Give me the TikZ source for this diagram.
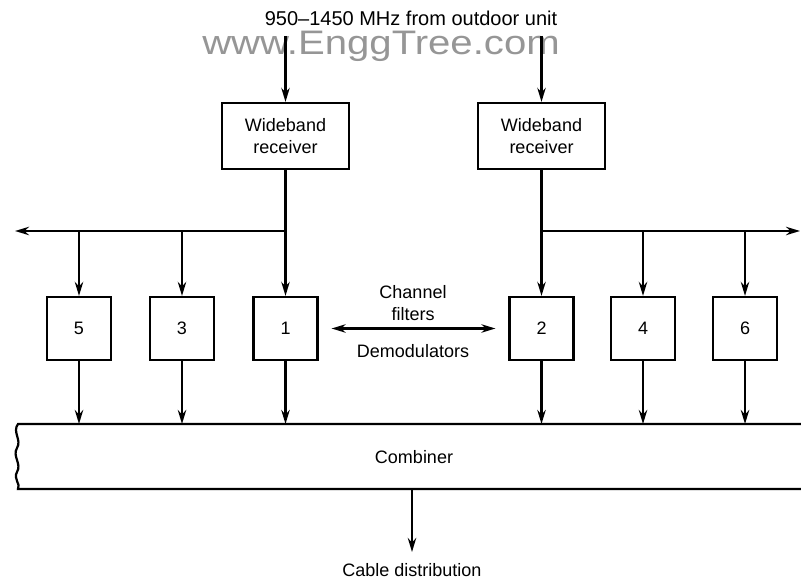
\documentclass[tikz,border=0pt]{standalone}
\usepackage{fontspec}
\setmainfont{Liberation Sans}
\usetikzlibrary{arrows.meta}
\definecolor{wmgray}{RGB}{150,150,150}

\begin{document}
\begin{tikzpicture}[x=0.5pt,y=-0.5pt,font=\fontsize{9}{11}\selectfont,line width=1.1pt,
    every node/.style={align=center},
    >={Stealth[length=7pt,width=4.2pt]},
    rxbox/.style={draw,minimum width=63.5pt,minimum height=33pt,inner sep=0pt},
    fltbox/.style={draw,minimum width=32pt,minimum height=31.5pt,inner sep=0pt}]
  \useasboundingbox (0,0) rectangle (801,581);
  % input and watermark
  \node (src) at (411,18) {\fontsize{10}{12}\selectfont 950--1450 MHz from outdoor unit};
  \node[text=wmgray,font=\fontsize{17}{19}\selectfont,anchor=base,xscale=1.18] (wm) at (381,55) {www.EnggTree.com};
  \coordinate (inL) at (285.5,36);
  \coordinate (inR) at (541.5,36);
  % receivers
  \node[rxbox] (rx1) at (285.5,136) {Wideband\\receiver};
  \node[rxbox] (rx2) at (541.5,136) {Wideband\\receiver};
  % channel filters / demodulators
  \node[fltbox] (f5) at (79,328.5) {5};
  \node[fltbox] (f3) at (182,328.5) {3};
  \node[fltbox] (f1) at (285.5,328.5) {1};
  \node[fltbox] (f2) at (541.5,328.5) {2};
  \node[fltbox] (f4) at (643,328.5) {4};
  \node[fltbox] (f6) at (745,328.5) {6};
  \node (chf) at (413,303) {Channel\\filters};
  \node (dem) at (413,351) {Demodulators};
  % combiner
  \coordinate (bus) at (0,231);
  \coordinate (busL) at (15,231);
  \coordinate (busR) at (800,231);
  \coordinate (cmbT) at (0,424);
  \coordinate (cmbB) at (0,489);
  \node (cmb) at (414,457) {Combiner};
  \node (cable) at (412,570) {Cable distribution};
  \coordinate (out) at (412,552);

  \draw[->] (inL) -- (rx1);
  \draw[->] (inR) -- (rx2);
  \draw[->] (rx1) -- (f1);
  \draw[->] (rx2) -- (f2);
  \draw[->] (rx1 |- bus) -- (busL);
  \draw[->] (rx2 |- bus) -- (busR);
  \foreach \f in {f5,f3,f4,f6}
    \draw[->] (\f |- bus) -- (\f);
  \foreach \f in {f5,f3,f1,f2,f4,f6}
    \draw[->] (\f) -- (\f |- cmbT);
  \draw[<->,shorten >=6.5pt,shorten <=6.5pt] (f1) -- (f2);
  \draw (801,424) -- (18,424) .. controls (12,432) and (22,440) .. (17,448)
    .. controls (12,456) and (22,464) .. (17,472) .. controls (13,479) and (21,484) .. (18,489)
    -- (801,489);
  \draw[->] (cable |- cmbB) -- (out);
\end{tikzpicture}
\end{document}
